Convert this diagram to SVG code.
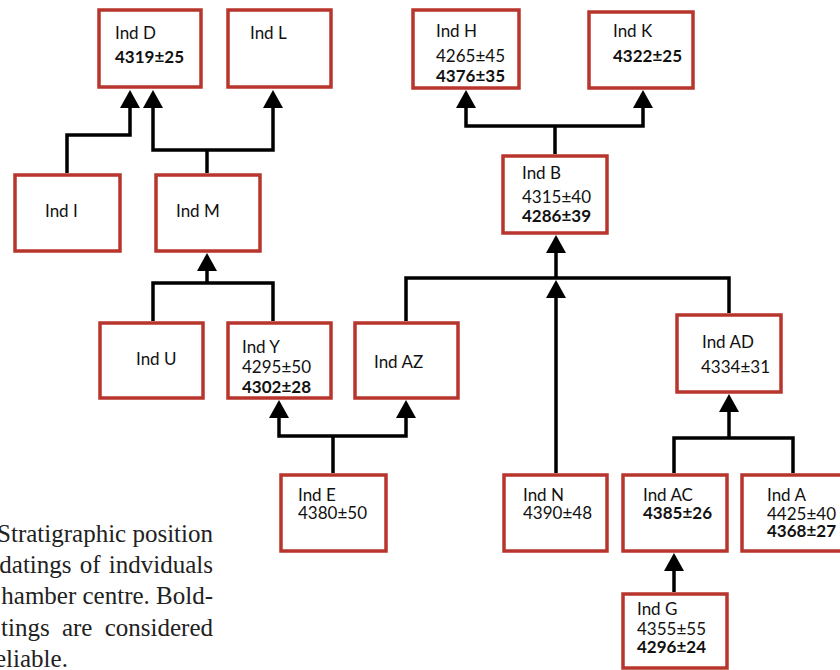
<svg xmlns="http://www.w3.org/2000/svg" width="840" height="670" viewBox="0 0 840 670">
<style>
.box{fill:#fff;stroke:#b8352d;stroke-width:3.5}
.t{font-family:Lato,"Open Sans",sans-serif;font-size:17px;fill:#111}
.b{font-weight:bold}
.c{fill:none;stroke:#000;stroke-width:3.5}
.cap{font-family:"Liberation Serif","Times New Roman",serif;font-size:25px;fill:#222}
</style>
<defs>
<marker id="ah" viewBox="0 0 18 20" refX="8" refY="10" markerWidth="18" markerHeight="20" markerUnits="userSpaceOnUse" orient="auto-start-reverse">
<path d="M0,0 L18,10 L0,20 z" fill="#000"/>
</marker>
</defs>
<rect width="840" height="670" fill="#fff"/>
<g id="connectors">
<path class="c" d="M67,173 V135 H130 V100" marker-end="url(#ah)"/>
<path class="c" d="M207,173 V150"/>
<path class="c" d="M153,100 V150 H273 V100" marker-start="url(#ah)" marker-end="url(#ah)"/>
<path class="c" d="M153,321 V283 H273 V321"/>
<path class="c" d="M207,283 V263" marker-end="url(#ah)"/>
<path class="c" d="M333,473 V436"/>
<path class="c" d="M279,410 V436 H406 V410" marker-start="url(#ah)" marker-end="url(#ah)"/>
<path class="c" d="M406,321 V278 H729 V313"/>
<path class="c" d="M556,278 V245" marker-end="url(#ah)"/>
<path class="c" d="M556,473 V290" marker-end="url(#ah)"/>
<path class="c" d="M555,154 V126"/>
<path class="c" d="M466,100 V126 H643 V100" marker-start="url(#ah)" marker-end="url(#ah)"/>
<path class="c" d="M674,473 V438 H793 V473"/>
<path class="c" d="M729,438 V404" marker-end="url(#ah)"/>
<path class="c" d="M674,592 V563" marker-end="url(#ah)"/>
</g>
<g id="ind-d"><rect class="box" x="99" y="10" width="102" height="77"/><text class="t" x="115" y="39">Ind D</text><text class="t b" x="115" y="63">4319±25</text></g>
<g id="ind-l"><rect class="box" x="228" y="10" width="103" height="77"/><text class="t" x="250" y="39">Ind L</text></g>
<g id="ind-h"><rect class="box" x="413" y="10" width="106" height="78"/><text class="t" x="436" y="37">Ind H</text><text class="t" x="436" y="62">4265±45</text><text class="t b" x="436" y="82">4376±35</text></g>
<g id="ind-k"><rect class="box" x="589" y="12" width="104" height="76"/><text class="t" x="613" y="37">Ind K</text><text class="t b" x="613" y="62">4322±25</text></g>
<g id="ind-i"><rect class="box" x="15" y="175" width="105" height="76"/><text class="t" x="45" y="217">Ind I</text></g>
<g id="ind-m"><rect class="box" x="156" y="175" width="104" height="76"/><text class="t" x="176" y="217">Ind M</text></g>
<g id="ind-b"><rect class="box" x="503" y="156" width="104" height="77"/><text class="t" x="522" y="179">Ind B</text><text class="t" x="522" y="203">4315±40</text><text class="t b" x="522" y="222">4286±39</text></g>
<g id="ind-u"><rect class="box" x="100" y="323" width="103" height="75"/><text class="t" x="136" y="365">Ind U</text></g>
<g id="ind-y"><rect class="box" x="228" y="323" width="103" height="75"/><text class="t" x="242" y="353">Ind Y</text><text class="t" x="242" y="373">4295±50</text><text class="t b" x="242" y="393">4302±28</text></g>
<g id="ind-az"><rect class="box" x="355" y="323" width="103" height="75"/><text class="t" x="374" y="368">Ind AZ</text></g>
<g id="ind-ad"><rect class="box" x="677" y="315" width="104" height="77"/><text class="t" x="702" y="348">Ind AD</text><text class="t" x="701" y="373">4334±31</text></g>
<g id="ind-e"><rect class="box" x="281" y="475" width="105" height="76"/><text class="t" x="298" y="501">Ind E</text><text class="t" x="298" y="519">4380±50</text></g>
<g id="ind-n"><rect class="box" x="504" y="475" width="103" height="76"/><text class="t" x="523" y="501">Ind N</text><text class="t" x="523" y="519">4390±48</text></g>
<g id="ind-ac"><rect class="box" x="623" y="475" width="104" height="76"/><text class="t" x="643" y="501">Ind AC</text><text class="t b" x="643" y="519">4385±26</text></g>
<g id="ind-a"><rect class="box" x="742" y="475" width="104" height="76"/><text class="t" x="767" y="501">Ind A</text><text class="t" x="767" y="520">4425±40</text><text class="t b" x="767" y="537">4368±27</text></g>
<g id="ind-g"><rect class="box" x="623" y="594" width="104" height="74"/><text class="t" x="637" y="615">Ind G</text><text class="t" x="637" y="635">4355±55</text><text class="t b" x="637" y="653">4296±24</text></g>
<g id="caption">
<text class="cap" x="213" y="542" text-anchor="end">Stratigraphic position</text>
<text class="cap" x="213" y="573" text-anchor="end" word-spacing="2">C datings of indviduals</text>
<text class="cap" x="213" y="604" text-anchor="end">hamber centre. Bold-</text>
<text class="cap" x="213" y="636" text-anchor="end" word-spacing="6">tings are considered</text>
<text class="cap" x="-5" y="667">eliable.</text>
</g>
</svg>
